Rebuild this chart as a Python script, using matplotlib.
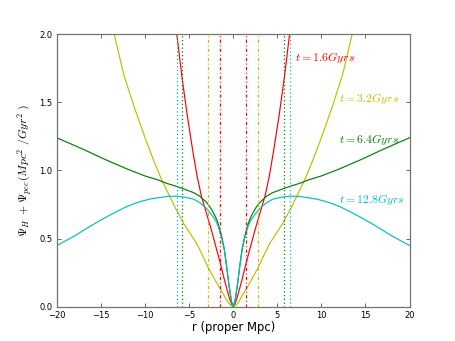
import matplotlib
matplotlib.use('Agg')
from matplotlib import pyplot as plt

# potential curves (r in proper Mpc)
r_red = [-7.0, -6.4, -5.8, -5.2, -4.6, -4.1, -3.6, -3.0, -2.5, -2.0, -1.5, -1.0, -0.75, -0.5, -0.25,
         0.0, 0.25, 0.5, 0.75, 1.0, 1.5, 2.0, 2.5, 3.0, 3.6, 4.1, 4.6, 5.2, 5.8, 6.4, 7.0]
psi_red = [2.35, 2.0, 1.68, 1.4, 1.15, 0.96, 0.81, 0.68, 0.57, 0.45, 0.33, 0.2, 0.14, 0.08, 0.03,
           0.0, 0.03, 0.08, 0.14, 0.2, 0.33, 0.45, 0.57, 0.68, 0.81, 0.96, 1.15, 1.4, 1.68, 2.0, 2.35]

r_yel = [-14.2, -13.5, -12.4, -11.2, -10.0, -9.0, -8.1, -7.2, -6.6, -5.6, -4.9, -4.1, -3.5, -2.85,
         -2.0, -1.5, -1.0, -0.75, -0.5, -0.25, 0.0, 0.25, 0.5, 0.75, 1.0, 1.5, 2.0, 2.85, 3.5, 4.1,
         4.9, 5.6, 6.6, 7.2, 8.1, 9.0, 10.0, 11.2, 12.4, 13.5, 14.2]
psi_yel = [2.2, 2.0, 1.7, 1.46, 1.24, 1.07, 0.93, 0.81, 0.73, 0.61, 0.54, 0.46, 0.38, 0.29,
           0.19, 0.135, 0.08, 0.05, 0.025, 0.01, 0.0, 0.01, 0.025, 0.05, 0.08, 0.135, 0.19, 0.29,
           0.38, 0.46, 0.54, 0.61, 0.73, 0.81, 0.93, 1.07, 1.24, 1.46, 1.7, 2.0, 2.2]

r_grn = [-20, -17, -14.5, -12, -10, -8.5, -7.5, -6.5, -5.5, -4.5, -3.8, -3.0, -2.5, -2.0, -1.75,
         -1.5, -1.25, -1.0, -0.75, -0.5, -0.2, 0.0, 0.2, 0.5, 0.75, 1.0, 1.25, 1.5, 1.75, 2.0,
         2.5, 3.0, 3.8, 4.5, 5.5, 6.5, 7.5, 8.5, 10, 12, 14.5, 17, 20]
psi_grn = [1.24, 1.155, 1.08, 1.01, 0.96, 0.93, 0.905, 0.885, 0.862, 0.838, 0.812, 0.765, 0.72,
           0.66, 0.62, 0.565, 0.5, 0.42, 0.3, 0.17, 0.04, 0.0, 0.04, 0.17, 0.3, 0.42, 0.5,
           0.565, 0.62, 0.66, 0.72, 0.765, 0.812, 0.838, 0.862, 0.885, 0.905, 0.93, 0.96, 1.01,
           1.08, 1.155, 1.24]

r_cyn = [-20, -18, -16, -14.5, -13.5, -12.1, -10.9, -9.5, -8.5, -7.5, -6.5, -5.5, -4.5, -3.8,
         -3.0, -2.5, -2.0, -1.75, -1.5, -1.25, -1.0, -0.75, -0.5, -0.2, 0.0, 0.2, 0.5, 0.75,
         1.0, 1.25, 1.5, 1.75, 2.0, 2.5, 3.0, 3.8, 4.5, 5.5, 6.5, 7.5, 8.5, 9.5, 10.9, 12.1,
         13.5, 14.5, 16, 18, 20]
psi_cyn = [0.45, 0.52, 0.6, 0.655, 0.69, 0.735, 0.765, 0.79, 0.8, 0.81, 0.812, 0.805, 0.79,
           0.765, 0.72, 0.68, 0.635, 0.6, 0.55, 0.49, 0.415, 0.3, 0.17, 0.04, 0.0, 0.04, 0.17,
           0.3, 0.415, 0.49, 0.55, 0.6, 0.635, 0.68, 0.72, 0.765, 0.79, 0.805, 0.812, 0.81, 0.8,
           0.79, 0.765, 0.735, 0.69, 0.655, 0.6, 0.52, 0.45]

# turnaround radii marked by vertical lines
r_turn = [1.5, 2.85, 5.8, 6.4]
turn_styles = [(0, (2.5, 2, 0.8, 2)), (0, (2.5, 2, 0.8, 2)), (0, (1, 2)), (0, (1, 2))]

labels = ['$t=1.6Gyrs$', '$t=3.2Gyrs$', '$t=6.4Gyrs$', '$t=12.8Gyrs$']
label_x = [7.0, 12.0, 12.0, 12.0]
label_y = [1.83, 1.53, 1.23, 0.79]

colors = ['#ff0000', '#bfbf00', '#008000', '#00bfbf']

plt.rcParams['mathtext.fontset'] = 'cm'

fig = plt.figure(figsize=(4.55, 3.41), dpi=100)
fig.subplots_adjust(left=0.125, right=0.9, bottom=0.1, top=0.9)
ax = fig.add_subplot(111)

curves = [(r_red, psi_red), (r_yel, psi_yel), (r_grn, psi_grn), (r_cyn, psi_cyn)]
for (r, psi), c in zip(curves, colors):
    ax.plot(r, psi, color=c, lw=0.85)

for rt, ls, c in zip(r_turn, turn_styles, colors):
    ax.axvline(-rt, color=c, ls=ls, lw=0.9)
    ax.axvline(rt, color=c, ls=ls, lw=0.9)

for lab, x, y, c in zip(labels, label_x, label_y, colors):
    ax.text(x, y, lab, color=c, fontsize=8.5, va='center', ha='left')

ax.set_xlim(-20, 20)
ax.set_ylim(0, 2.0)
ax.set_xticks(range(-20, 21, 5))
ax.set_yticks([0.0, 0.5, 1.0, 1.5, 2.0])
ax.tick_params(direction='in', top=True, right=True, length=2.8, width=0.6,
               labelsize=6, pad=3, color='0.3')
for s in ax.spines.values():
    s.set_color('0.45')
    s.set_linewidth(0.9)

ax.set_xlabel('r (proper Mpc)', fontsize=8.4, labelpad=1)
ax.set_ylabel(r'$\Psi_H\ +\Psi_{pec}(Mpc^2\ /Gyr^2\ )$', fontsize=8.5, labelpad=4)

fig.savefig('out.png', dpi=100)
